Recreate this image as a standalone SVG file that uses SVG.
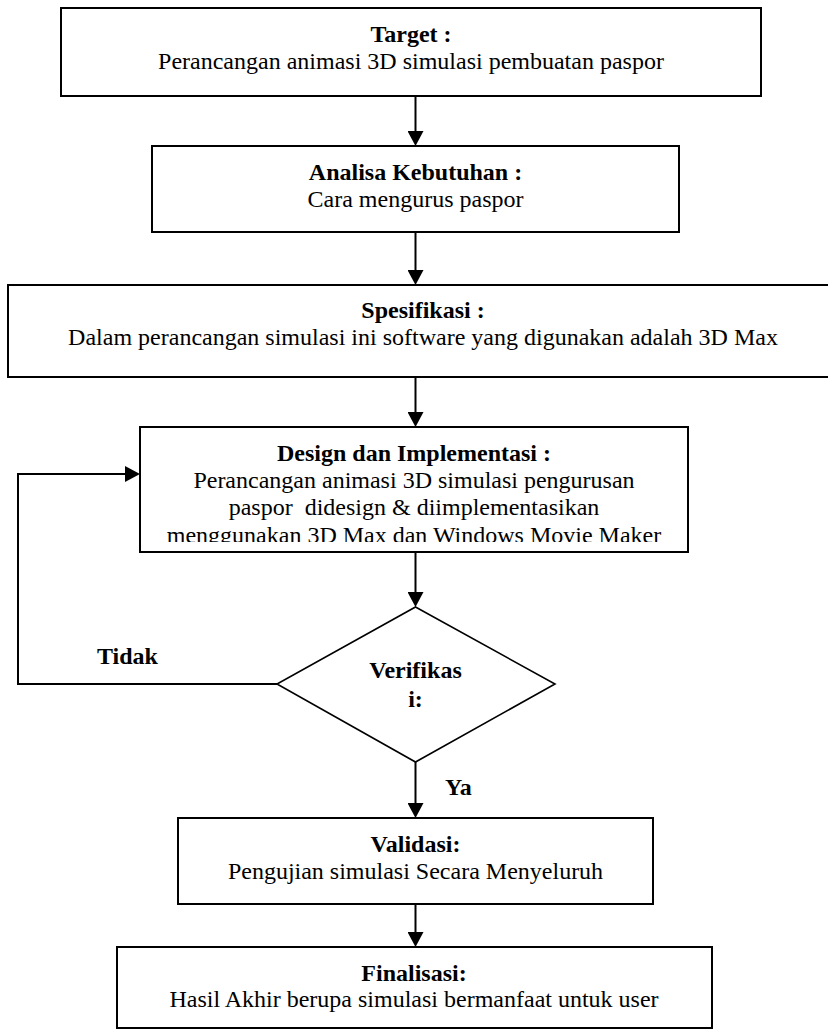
<svg xmlns="http://www.w3.org/2000/svg" width="828" height="1030" viewBox="0 0 828 1030">
<style>
.box{fill:#fff;stroke:#000;stroke-width:2}
.dia{fill:#fff;stroke:#000;stroke-width:1.6}
.t{font-family:"Liberation Serif","Times New Roman",serif;font-size:24px;fill:#000;text-anchor:middle}
.b{font-weight:bold}
.l{font-family:"Liberation Serif","Times New Roman",serif;font-size:24px;font-weight:bold;fill:#000}
.c{fill:none;stroke:#000;stroke-width:2}
</style>
<defs>
<marker id="ah" markerUnits="userSpaceOnUse" markerWidth="16" markerHeight="16" refX="0" refY="8" orient="auto" viewBox="0 0 16 16">
<path d="M0,0 L15,8 L0,16 z" fill="#000"/>
</marker>
<clipPath id="clipD"><rect x="141" y="428" width="546" height="114"/></clipPath>
</defs>
<rect width="828" height="1030" fill="#fff"/>
<g id="connectors">
<line class="c" x1="415.5" y1="96" x2="415.5" y2="131" marker-end="url(#ah)"/>
<line class="c" x1="415.5" y1="232" x2="415.5" y2="270" marker-end="url(#ah)"/>
<line class="c" x1="415.5" y1="377" x2="415.5" y2="412" marker-end="url(#ah)"/>
<line class="c" x1="415.5" y1="552" x2="415.5" y2="592" marker-end="url(#ah)"/>
<line class="c" x1="415.5" y1="762" x2="415.5" y2="803" marker-end="url(#ah)"/>
<line class="c" x1="415.5" y1="904" x2="415.5" y2="932" marker-end="url(#ah)"/>
<polyline class="c" points="277,684 18,684 18,474 125,474" marker-end="url(#ah)"/>
<text class="l" x="97" y="664">Tidak</text>
<text class="l" x="445" y="795">Ya</text>
</g>
<g id="target">
<rect class="box" x="61" y="8" width="700" height="88"/>
<text class="t b" x="411" y="42">Target :</text>
<text class="t" x="411" y="69">Perancangan animasi 3D simulasi pembuatan paspor</text>
</g>
<g id="analisa">
<rect class="box" x="152" y="146" width="527" height="86"/>
<text class="t b" x="415.5" y="180">Analisa Kebutuhan :</text>
<text class="t" x="415.5" y="207">Cara mengurus paspor</text>
</g>
<g id="spesifikasi">
<rect class="box" x="8" y="285" width="834" height="92"/>
<text class="t b" x="423" y="318">Spesifikasi :</text>
<text class="t" x="423" y="345">Dalam perancangan simulasi ini software yang digunakan adalah 3D Max</text>
</g>
<g id="design">
<rect class="box" x="140" y="427" width="548" height="125"/>
<g clip-path="url(#clipD)">
<text class="t b" x="414" y="461">Design dan Implementasi :</text>
<text class="t" x="414" y="488">Perancangan animasi 3D simulasi pengurusan</text>
<text class="t" x="414" y="515" xml:space="preserve">paspor  didesign &amp; diimplementasikan</text>
<text class="t" x="414" y="543">menggunakan 3D Max dan Windows Movie Maker</text>
</g>
</g>
<g id="verifikasi">
<polygon class="dia" points="415.5,607 555,684 415.5,762 277,684"/>
<text class="t b" x="415.5" y="678">Verifikas</text>
<text class="t b" x="415.5" y="707">i:</text>
</g>
<g id="validasi">
<rect class="box" x="178" y="818" width="475" height="86"/>
<text class="t b" x="415.5" y="852">Validasi:</text>
<text class="t" x="415.5" y="879">Pengujian simulasi Secara Menyeluruh</text>
</g>
<g id="finalisasi">
<rect class="box" x="117" y="947" width="595" height="81"/>
<text class="t b" x="414" y="981">Finalisasi:</text>
<text class="t" x="414" y="1007">Hasil Akhir berupa simulasi bermanfaat untuk user</text>
</g>
</svg>
